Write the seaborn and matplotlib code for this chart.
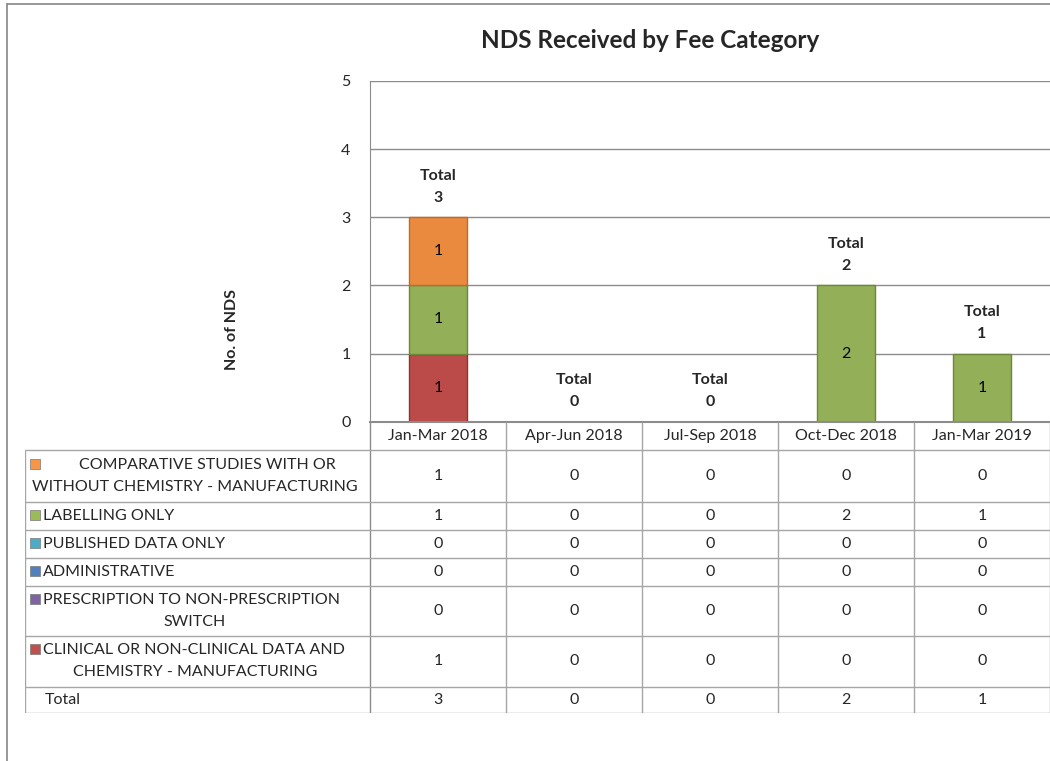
import numpy as np
import pandas as pd
import matplotlib
matplotlib.use("Agg")
import matplotlib.pyplot as plt
from matplotlib.lines import Line2D
import seaborn as sns

# data
quarters = ['Jan-Mar 2018', 'Apr-Jun 2018', 'Jul-Sep 2018', 'Oct-Dec 2018', 'Jan-Mar 2019']
# stacking order, bottom to top
categories = ['CLINICAL OR NON-CLINICAL DATA AND CHEMISTRY - MANUFACTURING',
              'PRESCRIPTION TO NON-PRESCRIPTION SWITCH',
              'ADMINISTRATIVE',
              'PUBLISHED DATA ONLY',
              'LABELLING ONLY',
              'COMPARATIVE STUDIES WITH OR WITHOUT CHEMISTRY - MANUFACTURING']
clinical = [1, 0, 0, 0, 0]
prescription = [0, 0, 0, 0, 0]
administrative = [0, 0, 0, 0, 0]
published = [0, 0, 0, 0, 0]
labelling = [1, 0, 0, 2, 1]
comparative = [1, 0, 0, 0, 0]

# table row labels (as wrapped in the reference), top to bottom
row_lines = {
    'COMPARATIVE STUDIES WITH OR WITHOUT CHEMISTRY - MANUFACTURING': ['COMPARATIVE STUDIES WITH OR', 'WITHOUT CHEMISTRY - MANUFACTURING'],
    'LABELLING ONLY': ['LABELLING ONLY'],
    'PUBLISHED DATA ONLY': ['PUBLISHED DATA ONLY'],
    'ADMINISTRATIVE': ['ADMINISTRATIVE'],
    'PRESCRIPTION TO NON-PRESCRIPTION SWITCH': ['PRESCRIPTION TO NON-PRESCRIPTION', 'SWITCH'],
    'CLINICAL OR NON-CLINICAL DATA AND CHEMISTRY - MANUFACTURING': ['CLINICAL OR NON-CLINICAL DATA AND', 'CHEMISTRY - MANUFACTURING'],
}

values = [clinical, prescription, administrative, published, labelling, comparative]
bar_colors = ['#BA4B48', '#7D60A0', '#4A7DBA', '#46A8C2', '#93B058', '#EA8A3E']
edge_colors = ['#8F3331', '#5A4378', '#345C8C', '#2F7F93', '#6B8838', '#BF6A26']
key_colors = ['#C0504D', '#8064A2', '#4F81BD', '#4BACC6', '#9BBB59', '#F79646']

df = pd.DataFrame(np.array(values).T, index=quarters, columns=categories)
totals = df.sum(axis=1)
bottoms = df.cumsum(axis=1) - df

sns.set_style('white')
plt.rcParams['font.family'] = ['Lato', 'DejaVu Sans']
FS = 11.5

W, H = 1050, 761
fig = plt.figure(figsize=(W / 100, H / 100), dpi=100)


def fbox(x0, y0, x1, y1):
    return [x0 / W, 1 - y1 / H, (x1 - x0) / W, (y1 - y0) / H]


ax = fig.add_axes(fbox(370, 81, 1050, 421.7))
for cat, col, ec in zip(categories, bar_colors, edge_colors):
    sns.barplot(x=quarters, y=df[cat].values, bottom=bottoms[cat].values, order=quarters,
                color=col, edgecolor=ec, linewidth=1, width=0.42, saturation=1,
                ax=ax)
# empty segments would leave a stray edge line
for p in ax.patches:
    if p.get_height() == 0:
        p.set_visible(False)

# segment labels and totals
for i, q in enumerate(quarters):
    for cat in categories:
        v = df.loc[q, cat]
        if v > 0:
            ax.text(i, bottoms.loc[q, cat] + v / 2, str(v), ha='center', va='center',
                    fontsize=FS, color='black')
    ax.annotate(f'Total\n{totals[q]}', (i, totals[q]), xytext=(0, 9),
                textcoords='offset points', ha='center', va='bottom',
                fontsize=FS, fontweight='bold', linespacing=1.75)

ax.set_xlim(-0.5, 4.5)
ax.set_ylim(0, 5)
ax.set_yticks(range(6))
ax.set_xticks([])
ax.set_xlabel('')
ax.set_ylabel('')
ax.tick_params(axis='y', labelsize=FS, pad=14, length=0)
ax.yaxis.grid(True, color='#8C8C8C', lw=1)
ax.set_axisbelow(True)
for s in ['top', 'right']:
    ax.spines[s].set_visible(False)
ax.spines['left'].set_color('#8C8C8C')
ax.spines['bottom'].set_color('#8C8C8C')
ax.spines['bottom'].set_linewidth(1.5)

fig.text(232 / W, 1 - 330 / H, 'No. of NDS', rotation=90, ha='center', va='center',
         fontsize=FS, fontweight='bold')
fig.text(650 / W, 1 - 40 / H, 'NDS Received by Fee Category', ha='center', va='center',
         fontsize=17.5, fontweight='bold')

# data table
tab_top, tab_bottom = 421.7, 712.7
tax = fig.add_axes(fbox(25, tab_top, 1050, tab_bottom))
tax.set_xlim(25, 1050)
tax.set_ylim(tab_bottom, tab_top)
tax.axis('off')

row_order = categories[::-1] + ['Total']
row_h = [28.3, 51.7, 28.3, 28, 27.7, 50, 51, 26]
edges = np.concatenate([[tab_top], tab_top + np.cumsum(row_h)])
col_w = 136
col_x = [370 + col_w * k for k in range(len(quarters) + 1)]
grid_c = '#A6A6A6'

tax.vlines(col_x[1:], tab_top, tab_bottom, color=grid_c, lw=1)
tax.vlines(col_x[0], tab_top, tab_bottom, color='#8C8C8C', lw=1)
tax.vlines(25, edges[1], tab_bottom, color=grid_c, lw=1)
tax.hlines(edges[1:], 25, 1050, color=grid_c, lw=1)

for i, q in enumerate(quarters):
    tax.text(col_x[i] + col_w / 2, (edges[0] + edges[1]) / 2, q, ha='center', va='center',
             fontsize=FS)

keys = dict(zip(categories, key_colors))
for r, name in enumerate(row_order):
    yc = (edges[r + 1] + edges[r + 2]) / 2
    vals = totals.values if name == 'Total' else df[name].values
    for i, v in enumerate(vals):
        tax.text(col_x[i] + col_w / 2, yc, str(v), ha='center', va='center', fontsize=FS)
    if name == 'Total':
        tax.text(45, yc, 'Total', ha='left', va='center', fontsize=FS)
        continue
    lines = row_lines[name]
    y1 = yc if len(lines) == 1 else yc - 11
    tax.scatter([35], [y1 - 1], marker='s', s=55, color=keys[name],
                edgecolor='#777777', linewidth=0.5, zorder=3)
    if len(lines) == 1:
        tax.text(43, y1, lines[0], ha='left', va='center', fontsize=FS)
    else:
        if name.startswith('COMPARATIVE'):
            tax.text(207, y1, lines[0], ha='center', va='center', fontsize=FS)
        else:
            tax.text(43, y1, lines[0], ha='left', va='center', fontsize=FS)
        tax.text(195, yc + 11, lines[1], ha='center', va='center', fontsize=FS)

# outer chart frame
fig.add_artist(Line2D([7 / W, 7 / W], [0, 1 - 4 / H], color='#868686', lw=1.2))
fig.add_artist(Line2D([7 / W, 1], [1 - 4 / H, 1 - 4 / H], color='#868686', lw=1.2))

fig.savefig('out.png', dpi=100)
